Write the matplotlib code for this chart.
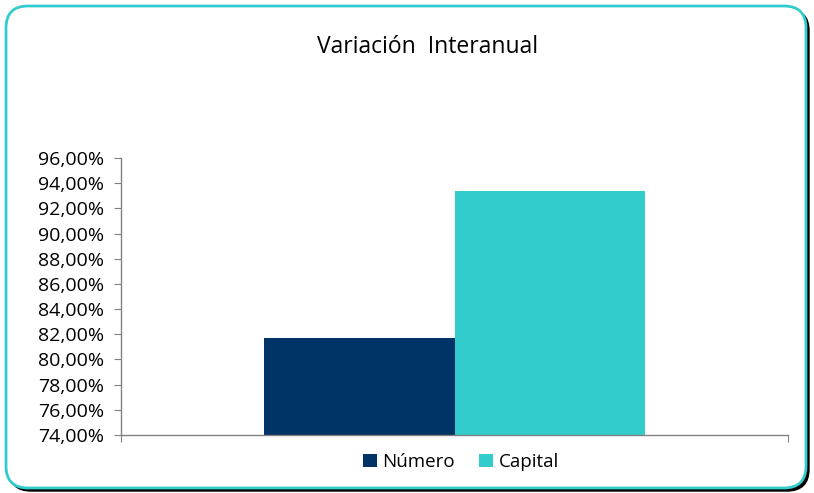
import matplotlib
matplotlib.use("Agg")
import matplotlib.pyplot as plt
from matplotlib.patches import FancyBboxPatch, Patch
from matplotlib.ticker import FuncFormatter, MultipleLocator

plt.rcParams['font.family'] = ['Open Sans', 'DejaVu Sans']

title = "Variación  Interanual"
series = ["Número", "Capital"]
values = [81.70, 93.37]
colors = ["#003366", "#33CCCC"]
yticks_min, yticks_max, ystep = 74, 96, 2

W, H = 814, 493
fig = plt.figure(figsize=(W / 100, H / 100), dpi=100)
fig.patch.set_facecolor("white")

def fx(px): return px / W
def fy(py): return 1 - py / H
r = 22
shadow = FancyBboxPatch((fx(9), fy(491)), fx(809 - 9), (491 - 9) / H,
                        boxstyle=f"round,pad=0,rounding_size={r / W}",
                        transform=fig.transFigure, facecolor="black", edgecolor="black",
                        linewidth=1, zorder=0, mutation_aspect=W / H)
fig.patches.append(shadow)
frame = FancyBboxPatch((fx(6), fy(488)), fx(806 - 6), (488 - 6) / H,
                       boxstyle=f"round,pad=0,rounding_size={r / W}",
                       transform=fig.transFigure, facecolor="white", edgecolor="#33CCCC",
                       linewidth=2, zorder=1, mutation_aspect=W / H)
fig.patches.append(frame)

ax = fig.add_axes([fx(121), fy(435), fx(788 - 121), (435 - 158) / H])
ax.set_zorder(2)
ax.patch.set_alpha(0)

bw = 0.286
for i, (name, v, c) in enumerate(zip(series, values, colors)):
    x = -bw / 2 + i * bw
    ax.bar(x, v - yticks_min, bottom=yticks_min, width=bw, color=c, label=name, zorder=2)

ax.set_xlim(-0.5, 0.5)
ax.set_ylim(yticks_min, yticks_max)
ax.yaxis.set_major_locator(MultipleLocator(ystep))
ax.yaxis.set_major_formatter(FuncFormatter(lambda v, p: f"{v:.2f}%".replace(".", ",")))
ax.set_xticks([-0.5, 0.5])
ax.set_xticklabels([])
for s in ["top", "right"]:
    ax.spines[s].set_visible(False)
for s in ["left", "bottom"]:
    ax.spines[s].set_color("#808080")
    ax.spines[s].set_linewidth(1)
ax.tick_params(axis="y", length=5, color="#808080", labelsize=14, pad=7, labelcolor="black")
ax.tick_params(axis="x", length=5, color="#808080")

fig.text(fx(428), fy(47), title, ha="center", va="center", fontsize=16.5, color="black")

handles = [Patch(facecolor=c, label=n) for n, c in zip(series, colors)]
fig.legend(handles=handles, loc="center", bbox_to_anchor=(fx(461), fy(462)), ncol=2,
           frameon=False, fontsize=13.5, handlelength=0.75, handleheight=0.75,
           handletextpad=0.3, columnspacing=1.3)

fig.savefig("out.png", dpi=100)
